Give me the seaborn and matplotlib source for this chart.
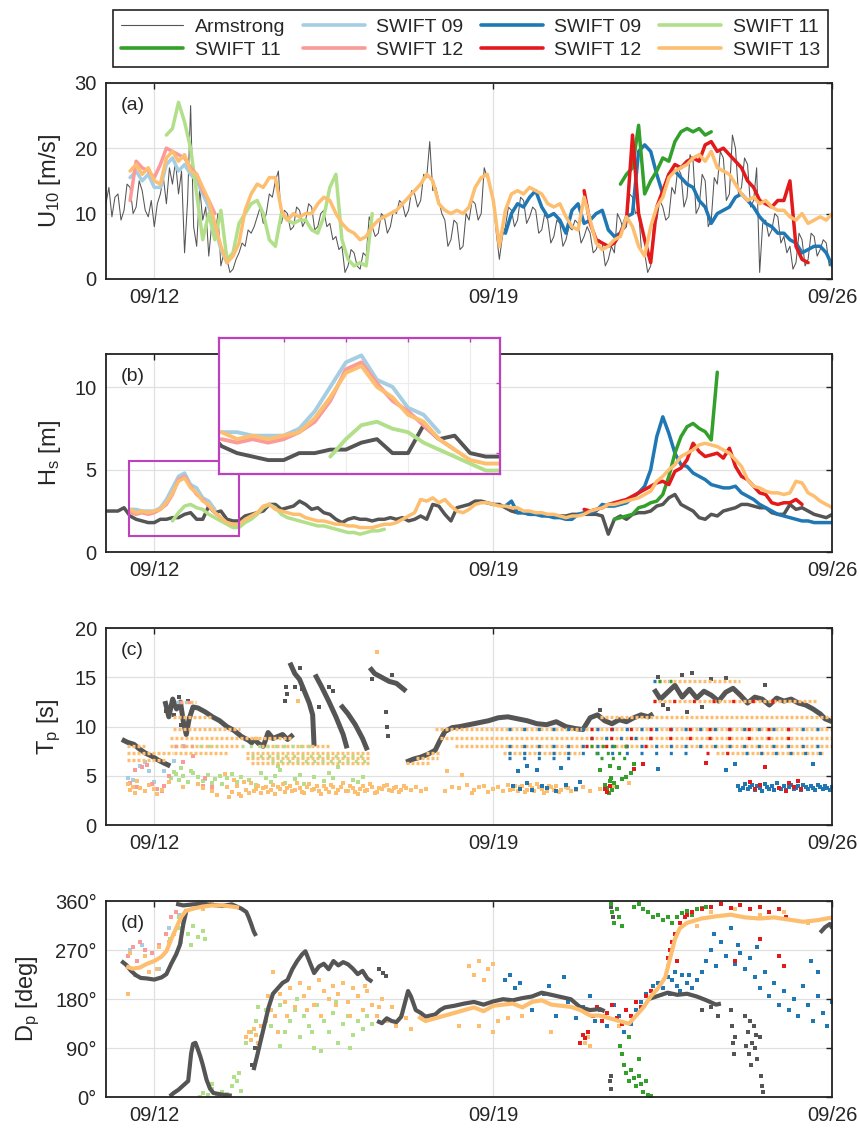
import numpy as np
import pandas as pd
import matplotlib
matplotlib.use("Agg")
import matplotlib.pyplot as plt
import matplotlib.dates as mdates
from matplotlib.lines import Line2D
from matplotlib.patches import Rectangle
import seaborn as sns

# ---------------------------------------------------------------- data
T_START = pd.Timestamp("2018-09-11 00:00")
T_END = pd.Timestamp("2018-09-26 00:00")
DT_DAYS = 0.125       # 3-hourly buoy records
DT_SHIP_DAYS = 0.0625  # 1.5-hourly ship anemometer records

LABELS = ["Armstrong", "SWIFT 09", "SWIFT 09", "SWIFT 11",
          "SWIFT 11", "SWIFT 12", "SWIFT 12", "SWIFT 13"]
COLORS = ["#555555", "#a6cee3", "#1f78b4", "#b2df8a",
          "#33a02c", "#fb9a99", "#e31a1c", "#fdbf6f"]
TICK_DAYS = [1, 8, 15]

# wind speed U10 [m/s]; each record list starts at *_T0 (days after T_START)
U10_ARM_T0 = 0.0
U10_ARM = [11.5, 14.0, 9.5, 12.5, 13.0, 9.0, 10.5, 14.5, 14.0, 10.0, 11.0, 15.0, 13.5, 10.5, 9.5, 12.0, 8.0,
           11.5, 13.0, 15.5, 11.5, 17.0, 14.5, 18.0, 13.0, 16.5, 4.0, 12.0, 26.5, 8.0, 5.0, 14.0, 9.0,
           11.0, 3.5, 8.5, 6.0, 10.0, 2.0, 4.0, 3.0, 1.0, 1.5, 3.0, 4.0, 5.5, 5.0, 7.5, 7.0,
           8.0, 9.5, 11.0, 8.5, 10.0, 13.0, 12.5, 15.0, 16.5, 8.5, 10.5, 10.0, 7.5, 8.0, 11.0, 10.5,
           8.0, 9.0, 11.5, 11.0, 7.5, 8.0, 10.0, 10.5, 8.0, 8.5, 6.0, 6.5, 4.5, 5.0, 1.0, 2.0,
           4.5, 4.0, 2.0, 1.5, 4.0, 3.5, 9.5, 8.0, 6.5, 7.0, 10.0, 9.5, 7.0, 8.0, 10.5, 10.0,
           12.0, 11.5, 9.5, 10.5, 13.5, 13.0, 11.0, 12.0, 16.0, 15.5, 21.0, 13.5, 14.0, 12.0, 10.0, 9.0,
           5.0, 6.0, 9.0, 8.5, 4.5, 5.0, 10.0, 9.0, 12.0, 11.5, 9.0, 10.0, 17.0, 15.5, 14.0, 12.0,
           7.0, 3.0, 6.5, 8.0, 11.0, 10.5, 8.0, 9.0, 12.5, 12.0, 8.5, 9.5, 11.0, 10.5, 7.0, 7.5,
           10.0, 9.0, 5.5, 6.5, 9.0, 8.5, 5.0, 6.0, 8.0, 7.5, 9.0, 8.5, 5.5, 6.5, 8.0, 7.0,
           4.0, 4.5, 6.0, 5.5, 2.0, 3.0, 5.0, 4.0, 10.0, 9.0, 7.5, 8.0, 13.0, 12.5, 10.0, 10.5,
           4.0, 4.0, 1.0, 2.0, 8.5, 9.0, 12.0, 11.0, 9.0, 9.5, 14.0, 13.0, 17.0, 16.0, 11.0, 12.5,
           19.0, 18.0, 10.0, 11.0, 16.0, 15.0, 8.0, 9.0, 15.5, 14.5, 19.5, 18.5, 12.0, 13.0, 22.0, 20.0,
           13.0, 14.0, 18.5, 17.5, 11.0, 12.0, 17.0, 1.0, 8.5, 9.0, 6.5, 7.5, 10.0, 9.5, 5.5, 6.5,
           4.0, 5.0, 1.5, 2.5, 7.0, 6.0, 2.0, 3.0, 7.0, 6.5, 3.5, 4.5, 6.0, 5.5, 2.0, 3.0]
U10_S09L_T0 = 0.5
U10_S09L = [15.5, 16.5, 15.0, 16.0, 14.0, 14.0, 17.5, 18.5, 16.5, 17.5, 16.0, 15.0, 13.0, 11.0, 8.0, 4.5, 2.5]
U10_S09_T0 = 8.25
U10_S09 = [7.0, 10.0, 11.5, 11.0, 12.5, 13.5, 11.0, 9.5, 10.0, 9.0, 7.0, 10.5, 11.5, 8.5, 9.0, 10.0,
           10.5, 7.5, 6.5, 7.0, 9.5, 10.0, 19.5, 20.5, 19.5, 16.0, 13.0, 16.0, 16.5, 15.5, 14.5, 14.0,
           12.0, 11.0, 8.5, 10.0, 10.5, 11.0, 12.5, 13.0, 12.0, 11.0, 9.5, 8.5, 8.0, 7.0, 7.0, 6.0,
           5.5, 4.0, 4.5, 5.0, 5.0, 4.0, 2.0]
U10_S11L_T0 = 1.25
U10_S11L = [22.0, 23.0, 27.0, 24.0, 20.0, 13.0, 6.0, 10.0, 6.0, 10.5, 3.0, 4.0, 8.5, 10.0, 11.5, 12.0,
            10.0, 6.0, 5.0, 10.0, 9.0, 8.5, 9.0, 9.0, 7.5, 7.0, 9.5, 14.0, 16.0, 6.0, 3.0, 2.0,
            2.5, 2.0, 10.0]
U10_S11_T0 = 10.625
U10_S11 = [14.5, 16.0, 17.0, 23.5, 13.0, 15.0, 16.5, 18.5, 18.0, 21.0, 22.5, 23.0, 22.5, 23.0, 22.0, 22.5]
U10_S12L_T0 = 0.5
U10_S12L = [12.0, 18.0, 17.0, 16.5, 15.5, 17.5, 20.0, 19.5, 19.0, 18.5, 17.0, 16.0, 13.5, 12.0, 10.0]
U10_S12_T0 = 9.875
U10_S12 = [13.5, 8.5, 6.0, 5.5, 5.0, 5.5, 7.0, 9.0, 22.0, 10.0, 6.0, 2.5, 11.0, 13.5, 16.0, 17.5,
           17.0, 18.0, 18.5, 18.0, 20.5, 21.0, 19.5, 20.0, 19.0, 18.0, 17.0, 15.0, 14.0, 12.0, 11.5, 11.0,
           12.0, 12.0, 15.0, 5.0, 3.0, 2.5]
U10_S13_T0 = 0.5
U10_S13 = [16.5, 17.5, 16.0, 17.0, 15.0, 14.5, 18.5, 19.5, 18.0, 19.0, 16.5, 16.0,
           14.0, 12.0, 8.5, 5.0, 2.5, 3.5, 5.5, 10.5, 13.0, 14.5, 14.0, 15.5, 15.5, 10.5, 9.0, 10.0,
           9.5, 10.0, 10.0, 11.5, 12.5, 12.0, 10.0, 8.5, 7.5, 7.0, 6.0, 6.5, 8.0, 9.0, 9.5, 10.0,
           10.5, 11.5, 12.5, 13.5, 14.5, 16.0, 15.0, 11.5, 10.5, 10.0, 10.5, 10.0, 11.0, 14.0, 15.5, 16.0,
           12.0, 5.0, 10.5, 13.0, 13.5, 13.0, 14.0, 13.5, 13.0, 11.5, 11.0, 11.5, 9.5, 8.0, 7.5, 12.5,
           9.0, 5.5, 4.5, 5.0, 6.0, 6.5, 9.5, 8.0, 5.0, 3.5, 8.0, 11.0, 12.5, 15.5, 16.5, 17.0,
           17.5, 18.5, 19.0, 18.0, 19.5, 17.0, 16.5, 16.0, 14.5, 13.0, 12.0, 12.5, 11.5, 12.0, 11.0, 10.5,
           10.5, 9.5, 9.0, 10.0, 8.5, 9.0, 9.5, 9.0, 10.0]

# significant wave height Hs [m]
HS_ARM_T0 = 0.0
HS_ARM = [2.5, 2.5, 2.5, 2.7, 2.2, 2.0, 1.9, 1.8, 1.8, 2.0, 2.0, 2.1, 2.1, 2.3, 2.4, 2.0,
          2.0, 2.8, 2.4, 2.5, 2.0, 1.9, 1.9, 2.2, 2.3, 2.4, 2.5, 2.9, 2.9, 2.6, 2.7, 2.8,
          3.1, 2.9, 2.6, 2.7, 2.4, 2.3, 2.0, 1.8, 2.0, 2.1, 2.0, 2.0, 1.9, 2.0, 2.0, 2.1,
          2.0, 2.1, 1.9, 2.0, 2.2, 2.0, 2.9, 2.8, 2.3, 1.9, 2.7, 2.8, 2.9, 3.1, 3.1, 3.0,
          2.9, 2.9, 2.7, 2.5, 2.4, 2.4, 2.3, 2.3, 2.3, 2.2, 2.2, 2.2, 2.2, 2.3, 2.3, 2.3,
          2.3, 2.3, 2.2, 1.1, 2.0, 2.2, 2.0, 2.3, 2.4, 2.4, 2.5, 2.8, 2.9, 3.3, 3.5, 2.9,
          2.7, 2.5, 2.1, 2.0, 2.3, 2.2, 2.5, 2.6, 2.7, 2.9, 2.9, 2.8, 2.7, 2.7, 2.4, 2.3,
          2.3, 2.9, 2.6, 2.7, 2.5, 2.3, 2.2, 2.1, 2.3]
HS_S09L_T0 = 0.5
HS_S09L = [2.6, 2.6, 2.5, 2.5, 2.5, 2.7, 3.2, 3.9, 4.6, 4.8, 4.1, 3.9, 3.3, 3.1, 2.6]
HS_S09_T0 = 8.25
HS_S09 = [2.8, 3.1, 2.4, 2.4, 2.3, 2.3, 2.2, 2.2, 2.1, 2.1, 2.0, 2.0, 2.3, 2.4, 2.4, 2.5,
          2.9, 2.8, 2.8, 2.9, 3.0, 3.3, 3.6, 4.0, 5.0, 7.0, 8.2, 7.2, 6.0, 5.3, 5.2, 4.8,
          4.6, 4.4, 4.1, 4.0, 3.9, 3.9, 4.0, 3.6, 3.4, 3.2, 2.9, 2.7, 2.5, 2.3, 2.2, 2.1,
          2.0, 1.9, 1.9, 1.8, 1.8, 1.8, 1.8]
HS_S11L_T0 = 1.375
HS_S11L = [1.9, 2.4, 2.8, 2.9, 2.7, 2.6, 2.3, 2.1, 1.9, 1.7, 1.5, 1.5, 1.8, 2.0, 2.3, 2.7,
           2.9, 2.7, 2.3, 2.1, 2.0, 1.9, 1.8, 1.7, 1.6, 1.6, 1.5, 1.4, 1.3, 1.2, 1.2, 1.1,
           1.2, 1.3, 1.3, 1.4]
HS_S11_T0 = 10.5
HS_S11 = [2.0, 2.1, 2.2, 2.3, 2.7, 2.8, 3.0, 3.1, 3.5, 4.6, 6.0, 7.0, 7.6, 7.8, 7.5, 7.3, 6.8, 10.9]
HS_S12L_T0 = 0.5
HS_S12L = [2.4, 2.3, 2.4, 2.3, 2.4, 2.6, 2.9, 3.5, 4.4, 4.6, 4.0, 3.5, 3.2, 2.8, 2.4, 2.1]
HS_S12_T0 = 9.875
HS_S12 = [2.6, 2.5, 2.6, 2.7, 2.9, 3.0, 3.1, 3.2, 3.4, 3.6, 3.8, 4.0, 4.2, 4.3, 4.1, 4.9,
          5.1, 5.6, 6.6, 6.1, 5.8, 5.9, 6.0, 5.7, 6.3, 5.2, 4.6, 4.4, 4.0, 3.6, 3.5, 3.0,
          2.9, 3.0, 3.0, 3.2, 2.9]
HS_S13_T0 = 0.5
HS_S13 = [2.6, 2.4, 2.5, 2.4, 2.5, 2.6, 3.0, 3.6, 4.3, 4.5, 3.9, 3.6,
          3.1, 2.9, 2.4, 2.1, 1.8, 1.7, 1.7, 2.0, 2.2, 2.4, 2.8, 2.9, 2.6, 2.5, 2.4, 2.3,
          2.3, 2.1, 2.0, 1.9, 1.9, 1.8, 1.7, 1.7, 1.6, 1.6, 1.5, 1.5, 1.5, 1.6, 1.7, 1.7,
          1.8, 2.0, 2.2, 2.4, 3.2, 3.1, 3.3, 3.0, 3.2, 2.8, 2.5, 2.4, 2.6, 2.9, 3.0, 3.0,
          2.9, 2.8, 2.8, 2.7, 2.7, 2.5, 2.5, 2.4, 2.4, 2.3, 2.3, 2.2, 2.1, 2.2, 2.2, 2.3,
          2.5, 2.6, 2.7, 2.9, 2.9, 3.0, 3.1, 3.2, 3.3, 3.5, 3.7, 4.3, 4.6, 5.0, 5.3, 5.8,
          6.0, 6.2, 6.5, 6.6, 6.5, 6.4, 6.2, 6.0, 5.6, 5.2, 4.4, 4.0, 3.9, 3.7, 3.6, 3.6,
          3.5, 3.6, 4.3, 4.2, 3.6, 3.4, 3.1, 2.9, 2.7]

# zoom box on the Hs panel (days after T_START, metres)
ZOOM_T = (0.48, 2.74)
ZOOM_HS = (1.0, 5.5)
INSET_HS = (1.4, 5.3)

# peak period Tp [s]: Armstrong tracks (days, seconds)
TP_ARM_1 = ([0.33, 0.45, 0.58, 0.7, 0.82, 0.95, 1.08, 1.2, 1.33],
            [8.7, 8.4, 8.2, 7.7, 7.3, 7.0, 6.6, 6.3, 6.0])
TP_ARM_2 = ([1.22, 1.3, 1.38, 1.46, 1.54, 1.6, 1.66, 1.72, 1.8, 1.9, 2.05, 2.2, 2.35, 2.5, 2.65, 2.8, 2.95, 3.05],
            [12.6, 11.0, 12.8, 11.8, 12.5, 10.5, 9.2, 10.8, 12.0, 11.9, 11.5, 11.0, 10.6, 10.0, 9.6, 9.0, 8.6, 8.2])
TP_ARM_3 = ([3.05, 3.15, 3.25, 3.35, 3.45, 3.55, 3.65, 3.75, 3.87],
            [8.8, 8.3, 8.0, 9.4, 8.8, 9.0, 9.2, 8.7, 9.2])
TP_ARM_4 = ([3.8, 3.9, 4.0, 4.1, 4.2, 4.27, 4.3],
            [16.5, 15.4, 14.8, 13.6, 12.4, 11.2, 8.0])
TP_ARM_5 = ([4.32, 4.45, 4.6, 4.75, 4.9, 4.98],
            [15.3, 14.1, 12.6, 11.0, 9.2, 7.8])
TP_ARM_6 = ([4.85, 5.0, 5.15, 5.3, 5.4],
            [12.2, 11.3, 10.2, 8.8, 7.6])
TP_ARM_7 = ([5.45, 5.55, 5.7, 5.85, 6.0, 6.1, 6.2],
            [16.0, 15.4, 15.0, 14.6, 14.4, 14.0, 13.6])
TP_ARM_8 = ([6.2, 6.35, 6.5, 6.65, 6.8, 6.9, 7.0, 7.15, 7.3, 7.5, 7.7, 7.9, 8.1, 8.3, 8.5, 8.7,
             8.9, 9.1, 9.3, 9.5, 9.7, 9.85, 10.0, 10.15, 10.3, 10.45, 10.6, 10.75, 10.9, 11.05, 11.2, 11.3],
            [6.4, 6.7, 6.9, 7.2, 7.6, 8.6, 9.5, 9.9, 10.0, 10.2, 10.4, 10.6, 10.9, 11.0, 10.8, 10.6,
             10.3, 10.2, 10.5, 10.0, 9.8, 9.7, 10.9, 11.2, 10.6, 10.3, 10.7, 10.5, 10.9, 11.2, 11.0, 11.3])
TP_ARM_9 = ([11.32, 11.45, 11.6, 11.75, 11.9, 12.05, 12.2, 12.35, 12.5, 12.65, 12.8, 12.95, 13.1,
             13.25, 13.4, 13.55, 13.7, 13.85, 14.0, 14.15, 14.3, 14.45, 14.6, 14.75, 14.85, 15.0],
            [13.8, 12.8, 13.5, 14.2, 13.0, 13.8, 12.9, 13.6, 13.2, 12.6, 13.5, 13.9, 13.2,
             12.4, 13.0, 12.8, 12.2, 12.9, 12.6, 12.8, 12.4, 12.2, 11.8, 11.3, 10.8, 10.5])
TP_ARM_PTS = [(11.4, 15.0), (11.9, 15.2), (12.1, 15.5), (12.5, 14.8), (11.6, 11.8), (12.0, 11.5),
              (12.3, 12.0), (5.78, 11.5), (5.8, 10.0), (5.82, 9.0), (3.72, 14.0), (3.75, 13.3),
              (3.7, 12.6), (4.4, 12.0), (11.5, 12.2), (12.8, 14.9), (13.6, 14.2), (10.2, 11.7),
              (1.25, 11.6), (1.4, 11.2), (1.5, 13.0), (1.7, 12.6), (1.55, 10.2), (3.9, 14.0),
              (4.0, 16.0), (4.05, 13.8), (4.6, 14.0), (4.7, 13.6), (5.5, 14.8), (5.9, 15.2)]

# SWIFT peak periods fall on discrete spectral bins: (start day, end day, Tp)
TP_S13_BANDS = [(0.43, 0.84, 8.0), (0.43, 1.39, 7.3), (0.43, 1.25, 6.6), (1.39, 2.22, 11.0),
                (1.53, 1.87, 12.5), (1.39, 2.77, 9.8), (1.32, 3.18, 8.8), (1.32, 2.77, 8.0),
                (1.40, 2.50, 7.3), (3.04, 3.87, 8.8), (2.90, 5.45, 7.3), (2.90, 5.45, 6.8),
                (3.00, 5.45, 6.3), (3.20, 4.60, 8.0), (6.20, 6.70, 6.3), (6.40, 6.85, 6.8),
                (6.60, 6.90, 7.3), (6.80, 15.0, 9.8), (6.90, 15.0, 8.8), (7.20, 15.0, 8.0),
                (8.20, 9.80, 7.3), (10.2, 15.0, 11.0), (11.3, 14.7, 12.6), (11.4, 13.1, 14.6),
                (12.6, 14.8, 7.3)]
TP_S11L_BANDS = [(1.40, 2.30, 8.0), (2.80, 4.30, 8.0), (3.00, 5.40, 7.0), (3.40, 5.40, 6.5)]
TP_S12L_BANDS = [(1.40, 1.80, 8.0), (1.50, 1.75, 12.5)]
TP_S09L_BANDS = [(1.45, 1.65, 12.5)]
TP_S09_BANDS = [(8.3, 15.0, 9.8), (8.3, 15.0, 8.0), (8.3, 12.0, 7.3), (8.3, 9.6, 6.8),
                (13.2, 14.9, 7.3), (11.3, 11.6, 14.6), (10.0, 11.4, 8.8)]
TP_S12_BANDS = [(10.0, 14.3, 9.8), (10.0, 14.3, 8.8), (9.9, 11.4, 8.0), (11.3, 14.0, 12.6),
                (12.4, 13.2, 7.3)]
TP_S11_BANDS = [(10.0, 10.9, 8.0), (10.1, 10.8, 7.3), (10.2, 10.8, 6.8), (11.4, 11.7, 14.6)]

TP_S13_PTS = [(0.45, 4.2), (0.5, 3.6), (0.55, 3.9), (0.6, 3.3), (0.65, 4.5), (0.7, 3.8), (0.8, 3.5),
              (0.9, 4.1), (1.0, 3.7), (1.05, 3.2), (1.15, 3.6), (1.3, 4.4), (1.6, 3.9), (1.9, 4.2),
              (2.0, 3.8), (2.2, 3.5), (2.3, 3.1), (2.45, 5.2), (2.5, 3.9), (2.55, 2.8), (2.6, 3.4),
              (2.65, 4.6), (2.7, 4.0), (2.75, 3.2), (2.8, 3.0), (2.85, 4.4), (2.9, 3.6), (2.95, 3.3),
              (3.0, 4.3), (3.05, 3.5), (3.1, 3.7), (3.15, 4.0), (3.2, 3.3), (3.25, 3.8), (3.3, 3.9),
              (3.35, 3.4), (3.4, 3.6), (3.45, 4.1), (3.5, 3.2), (3.55, 3.9), (3.6, 3.7), (3.65, 4.2),
              (3.7, 3.4), (3.75, 3.8), (3.8, 4.0), (3.85, 3.5), (3.9, 3.6), (3.95, 4.3), (4.0, 3.8),
              (4.05, 3.4), (4.1, 3.3), (4.15, 3.9), (4.2, 4.2), (4.25, 3.6), (4.3, 3.7), (4.35, 4.0),
              (4.4, 3.5), (4.45, 3.2), (4.5, 4.0), (4.55, 3.7), (4.6, 3.4), (4.65, 4.1), (4.7, 3.9),
              (4.75, 3.3), (4.8, 3.6), (4.85, 3.9), (4.9, 4.3), (4.95, 3.5), (5.0, 3.5), (5.05, 4.0),
              (5.1, 3.8), (5.15, 3.4), (5.2, 3.2), (5.25, 3.7), (5.3, 4.0), (5.35, 3.5), (5.4, 3.6),
              (5.45, 4.2), (5.5, 3.9), (5.55, 3.3), (5.6, 3.4), (5.65, 3.8), (5.7, 3.7), (5.75, 4.0),
              (5.8, 4.1), (5.85, 3.6), (5.9, 3.5), (5.95, 3.8), (6.0, 3.9), (6.05, 3.4), (6.1, 3.6),
              (6.15, 4.0), (6.2, 3.8), (6.3, 3.6), (6.4, 3.9), (6.5, 3.5), (6.6, 3.7), (7.0, 3.5),
              (7.15, 3.9), (7.3, 3.8), (7.45, 4.1), (7.55, 3.3), (7.6, 3.6), (7.7, 3.9), (7.8, 4.0),
              (7.9, 3.4), (8.0, 3.7), (8.1, 3.9), (8.2, 3.5), (8.3, 4.1), (8.35, 3.6), (8.4, 3.7),
              (8.45, 4.0), (8.5, 3.5), (8.55, 3.9), (8.6, 4.0), (8.65, 3.4), (8.7, 3.6), (8.75, 4.1),
              (8.8, 3.8), (8.85, 3.5), (8.9, 4.2), (8.95, 3.9), (9.0, 3.7), (9.05, 3.3), (9.1, 3.5),
              (9.15, 4.0), (9.2, 3.9), (9.25, 3.6), (9.3, 4.0), (9.35, 3.4), (9.4, 3.6), (9.5, 3.9),
              (9.55, 3.8), (9.6, 3.5), (9.7, 3.6), (9.85, 3.9), (10.0, 3.5), (10.2, 3.7), (10.5, 4.0),
              (10.8, 4.3), (5.6, 17.6), (7.05, 5.5), (7.35, 5.1), (3.97, 12.6)]
TP_S11L_PTS = [(1.35, 4.8), (1.4, 5.4), (1.45, 5.2), (1.5, 4.6), (1.55, 5.8), (1.6, 5.0), (1.7, 4.4),
               (1.75, 5.5), (1.8, 5.3), (1.9, 4.9), (2.0, 4.5), (2.1, 5.1), (2.2, 4.3), (2.25, 4.7),
               (2.35, 5.0), (2.4, 4.2), (2.5, 4.8), (2.6, 5.2), (2.7, 4.4), (2.8, 4.9), (2.95, 4.6),
               (3.1, 4.1), (3.2, 5.3), (3.3, 4.8), (3.5, 5.0), (3.7, 4.3), (3.9, 4.7), (4.1, 4.2),
               (4.3, 4.9), (4.5, 4.5), (4.7, 4.8), (4.9, 4.3), (5.1, 4.6), (5.3, 4.9), (3.4, 4.4),
               (4.0, 5.1), (4.6, 5.3), (5.2, 4.4), (3.6, 5.6), (3.55, 6.0), (4.8, 5.9)]
TP_S12L_PTS = [(0.5, 4.3), (0.6, 5.6), (0.75, 5.9), (0.85, 6.1), (0.95, 4.2), (1.05, 3.7), (1.2, 4.0),
               (1.3, 5.0), (1.6, 6.4), (1.8, 7.0), (2.0, 4.0), (2.2, 3.9), (2.05, 4.8), (1.15, 3.5),
               (0.65, 3.9)]
TP_S09L_PTS = [(0.45, 4.8), (0.55, 4.6), (0.7, 6.0), (0.9, 5.5), (1.2, 5.5), (1.4, 6.5), (1.6, 8.0),
               (2.05, 4.7), (0.8, 6.4), (1.0, 4.4)]
TP_S09_PTS = [(8.4, 4.0), (8.55, 3.7), (8.7, 4.3), (8.8, 3.6), (9.0, 4.0), (9.1, 3.8), (9.3, 3.5),
              (9.5, 4.1), (9.7, 3.7), (9.8, 4.4), (8.5, 5.5), (8.7, 6.0), (8.9, 5.6), (9.4, 5.8),
              (11.4, 5.7), (12.8, 5.6), (13.0, 6.2), (14.6, 6.2), (13.05, 4.0), (13.1, 3.6),
              (13.15, 3.8), (13.2, 4.2), (13.25, 3.7), (13.3, 3.9), (13.35, 4.1), (13.4, 3.6),
              (13.45, 4.0), (13.5, 3.8), (13.55, 3.5), (13.6, 4.2), (13.65, 3.9), (13.7, 3.7),
              (13.75, 4.0), (13.8, 3.6), (13.85, 4.3), (13.9, 3.8), (13.95, 3.7), (14.0, 4.0),
              (14.05, 3.6), (14.1, 3.9), (14.15, 4.1), (14.2, 3.7), (14.25, 3.8), (14.3, 4.0),
              (14.35, 3.6), (14.4, 4.1), (14.45, 3.9), (14.5, 3.7), (14.55, 4.0), (14.6, 3.8),
              (14.65, 3.6), (14.7, 4.1), (14.75, 3.9), (14.8, 3.7), (14.85, 4.0), (14.9, 3.8),
              (14.95, 3.6), (15.0, 3.9)]
TP_S12_PTS = [(10.3, 3.7), (10.35, 3.4), (10.4, 4.0), (13.3, 4.4), (13.5, 4.1), (13.9, 3.8),
              (14.1, 4.3), (14.2, 3.9), (14.3, 4.5), (14.35, 3.7), (10.9, 5.7), (11.1, 6.2),
              (13.6, 5.9), (12.4, 6.3), (13.4, 3.7), (14.05, 3.5)]
TP_S11_PTS = [(10.3, 4.1), (10.35, 3.8), (10.4, 4.5), (10.45, 3.6), (10.5, 4.3), (10.55, 3.9),
              (10.65, 4.7), (10.75, 4.9), (10.2, 5.6), (10.6, 5.8), (10.85, 5.3), (10.4, 6.0),
              (10.9, 6.2), (10.38, 3.3), (10.42, 4.8)]

# peak direction Dp [deg]: continuous tracks (days, degrees) and scattered records
DP_ARM_1 = ([0.32, 0.42, 0.52, 0.62, 0.72, 0.85, 1.0, 1.15, 1.25, 1.35, 1.45, 1.53, 1.6, 1.67],
            [250, 243, 232, 224, 219, 218, 216, 220, 226, 245, 262, 280, 318, 345])
DP_ARM_2 = ([1.45, 1.6, 1.8, 2.0, 2.2, 2.4, 2.6, 2.7, 2.8, 2.9, 2.95, 3.0, 3.05, 3.1],
            [355, 352, 354, 355, 353, 351, 354, 350, 346, 340, 330, 318, 305, 296])
DP_ARM_3 = ([1.32, 1.4, 1.5, 1.6, 1.7, 1.76, 1.8, 1.85, 1.9, 1.95, 2.0, 2.08, 2.15, 2.22, 2.4, 2.6],
            [2, 8, 14, 22, 30, 80, 98, 100, 88, 75, 60, 32, 16, 8, 5, 3])
DP_ARM_4 = ([3.05, 3.12, 3.2, 3.28, 3.36, 3.45, 3.55, 3.65, 3.75, 3.85, 3.95, 4.05, 4.12, 4.2,
             4.3, 4.4, 4.5, 4.6, 4.7, 4.8, 4.9, 5.0, 5.1, 5.2, 5.3, 5.4, 5.5],
            [50, 75, 105, 135, 165, 190, 200, 210, 215, 235, 250, 262, 268, 250,
             228, 240, 245, 235, 250, 242, 248, 244, 236, 226, 232, 218, 212])
DP_ARM_5 = ([5.6, 5.7, 5.8, 5.9, 6.0, 6.1, 6.18, 6.24, 6.3, 6.4, 6.5, 6.6, 6.7, 6.8, 6.9, 7.0,
             7.2, 7.4, 7.6, 7.8, 8.0, 8.2, 8.4, 8.6, 8.8, 9.0, 9.2, 9.4, 9.6, 9.8, 10.0, 10.2, 10.3],
            [140, 136, 145, 140, 138, 148, 175, 195, 185, 160, 155, 148, 150, 152, 160, 165,
             168, 172, 175, 170, 176, 180, 178, 182, 185, 192, 188, 184, 180, 165, 160, 162, 158])
DP_ARM_6 = ([11.2, 11.4, 11.6, 11.8, 12.0, 12.2, 12.4, 12.6, 12.7],
            [180, 186, 192, 188, 190, 185, 178, 170, 172])
DP_ARM_7 = ([14.75, 14.85, 14.95, 15.0], [302, 312, 318, 310])
DP_ARM_PTS = [(5.65, 235), (5.72, 228), (5.78, 222), (10.42, 350), (10.45, 340), (10.47, 330),
              (10.4, 30), (10.42, 15), (10.44, 40), (12.9, 160), (12.93, 130), (12.95, 100),
              (12.97, 80), (13.0, 110), (13.2, 150), (13.25, 120), (13.3, 140), (13.35, 100),
              (13.4, 90), (13.45, 70), (13.5, 110), (13.52, 40), (13.55, 20), (13.57, 10),
              (13.28, 80), (13.38, 130), (13.22, 95), (13.32, 60), (13.42, 115), (12.3, 160),
              (12.5, 165), (12.65, 150), (3.02, 60), (3.08, 90)]
DP_S13_1 = ([0.42, 0.55, 0.7, 0.85, 1.0, 1.15, 1.25, 1.35, 1.45, 1.55, 1.65, 1.8, 2.0, 2.2, 2.4, 2.6, 2.75],
            [240, 236, 238, 245, 250, 258, 268, 290, 310, 330, 342, 346, 350, 352, 352, 350, 348])
DP_S13_2 = ([6.45, 6.6, 6.8, 7.0, 7.2, 7.4, 7.6, 7.8, 8.0, 8.2, 8.4, 8.6, 8.8, 9.0, 9.2, 9.4, 9.6,
             9.8, 10.0, 10.2, 10.4, 10.6, 10.8, 10.95, 11.1, 11.25, 11.4, 11.55, 11.65, 11.75, 11.85,
             12.0, 12.3, 12.6, 12.9, 13.2, 13.5, 13.8, 14.1, 14.4, 14.7, 15.0],
            [148, 140, 145, 150, 155, 160, 165, 158, 168, 170, 172, 165, 175, 178, 170, 168, 166,
             160, 150, 150, 145, 140, 135, 150, 165, 185, 200, 220, 255, 290, 310,
             320, 328, 332, 335, 330, 328, 330, 326, 322, 325, 330])
DP_S13_PTS = [(2.9, 110), (2.95, 120), (3.0, 105), (3.05, 125), (3.1, 115), (3.15, 100), (3.2, 130),
              (3.3, 140), (3.4, 160), (3.45, 230), (3.5, 150), (3.6, 190), (3.7, 175), (3.8, 200),
              (3.9, 165), (4.0, 210), (4.1, 185), (4.2, 200), (4.3, 170), (4.4, 215), (4.5, 195),
              (4.6, 180), (4.7, 205), (4.8, 190), (4.9, 210), (5.0, 175), (5.1, 200), (5.2, 185),
              (5.3, 160), (5.4, 195), (5.5, 170), (5.6, 150), (5.7, 180), (5.8, 140), (5.9, 165),
              (6.0, 130), (6.1, 150), (6.2, 145), (6.3, 125), (0.45, 190), (0.5, 265), (0.6, 225),
              (0.8, 260), (0.9, 230), (1.05, 235), (1.1, 275), (7.5, 240), (7.6, 225), (7.7, 250),
              (7.8, 215), (7.9, 235), (8.0, 245), (7.3, 130), (7.7, 130), (8.1, 140), (8.3, 145),
              (8.6, 150), (8.0, 120), (9.2, 120), (9.9, 100), (9.95, 110), (10.0, 95), (10.3, 150),
              (10.6, 130), (11.6, 240), (11.7, 270), (12.2, 315), (12.5, 340), (13.0, 345),
              (13.5, 335), (14.0, 340), (14.5, 320), (2.0, 345), (2.2, 355), (1.6, 320), (1.4, 300),
              (1.3, 285), (3.35, 185), (3.55, 120), (3.75, 150), (4.15, 160), (4.45, 150), (4.75, 170),
              (5.05, 150), (5.35, 205), (5.65, 165)]
DP_S09L_PTS = [(0.5, 270), (0.75, 280), (1.1, 235), (1.3, 310), (1.5, 335)]
DP_S09_PTS = [(8.25, 215), (8.35, 225), (8.45, 200), (8.55, 210), (8.8, 160), (9.05, 190), (9.15, 205),
              (9.3, 150), (9.45, 220), (9.55, 175), (9.7, 145), (9.85, 165), (10.0, 185), (10.1, 140),
              (10.2, 160), (10.35, 130), (10.5, 170), (10.6, 150), (10.7, 120), (10.85, 135),
              (10.95, 160), (11.05, 175), (11.15, 190), (11.3, 205), (11.4, 210), (11.5, 200),
              (11.6, 220), (11.7, 215), (11.8, 205), (11.9, 225), (12.0, 210), (12.1, 200),
              (12.2, 215), (12.3, 230), (12.4, 250), (12.5, 270), (12.55, 300), (12.6, 240),
              (12.7, 285), (12.8, 260), (12.9, 310), (13.0, 245), (13.05, 280), (13.1, 265),
              (13.2, 235), (13.3, 255), (13.4, 220), (13.45, 275), (13.5, 200), (13.6, 230),
              (13.7, 185), (13.8, 210), (13.9, 170), (14.0, 195), (14.1, 160), (14.2, 180),
              (14.3, 150), (14.4, 205), (14.5, 170), (14.6, 140), (14.7, 185), (14.8, 155),
              (14.9, 130), (15.0, 175), (14.55, 250), (14.7, 230), (11.65, 190), (11.75, 230),
              (11.85, 195), (12.05, 225)]
DP_S11L_PTS = [(1.32, 290), (1.4, 300), (1.5, 310), (1.55, 285), (1.6, 320), (1.7, 300), (1.75, 280),
               (1.8, 315), (1.9, 295), (2.0, 305), (2.05, 290), (1.5, 330), (1.95, 0), (2.0, 8),
               (2.1, 5), (2.2, 15), (2.3, 3), (2.4, 10), (2.5, 6), (2.6, 20), (2.7, 30), (2.75, 45),
               (2.8, 12), (2.2, 25), (2.45, 2), (2.65, 38), (2.9, 100), (3.0, 120), (3.1, 140),
               (3.2, 110), (3.3, 160), (3.4, 130), (3.5, 150), (3.6, 170), (3.7, 120), (3.8, 140),
               (3.9, 160), (4.0, 110), (4.1, 150), (4.2, 130), (4.3, 90), (4.35, 170), (4.5, 140),
               (4.6, 120), (4.7, 155), (4.8, 100), (4.9, 135), (5.0, 150), (5.1, 115), (5.2, 140),
               (5.3, 125), (5.4, 150), (5.5, 135), (3.15, 165), (3.6, 95), (4.45, 85), (4.75, 175),
               (5.05, 90), (3.95, 180), (4.25, 120)]
DP_S11_PTS = [(10.42, 355), (10.45, 340), (10.5, 320), (10.55, 345), (10.6, 330), (10.65, 315),
              (10.9, 350), (11.0, 355), (11.1, 345), (11.2, 340), (10.62, 95), (10.65, 80),
              (10.7, 60), (10.75, 45), (10.8, 30), (10.85, 50), (10.9, 35), (10.95, 20), (11.0, 40),
              (11.05, 25), (11.1, 10), (11.15, 30), (11.2, 5), (11.25, 2), (10.8, 110), (11.0, 70),
              (11.3, 330), (11.4, 335), (11.5, 325), (11.6, 330), (11.7, 320), (11.8, 330),
              (11.9, 338), (12.0, 342), (12.1, 335), (12.2, 345), (12.3, 348), (12.4, 350)]
DP_S12L_PTS = [(0.45, 260), (0.55, 275), (0.65, 250), (0.8, 270), (0.95, 265), (1.1, 280),
               (1.25, 300), (1.35, 330), (1.45, 340), (0.7, 285)]
DP_S12_PTS = [(9.8, 100), (9.85, 115), (9.9, 108), (9.95, 120), (10.05, 150), (10.15, 165),
              (10.25, 140), (10.35, 155), (10.45, 170), (10.55, 145), (10.65, 135), (10.75, 160),
              (10.85, 150), (10.95, 175), (11.05, 165), (11.15, 185), (11.25, 195), (11.6, 255),
              (11.65, 270), (11.7, 285), (11.75, 300), (11.85, 320), (11.95, 330), (12.1, 340),
              (12.3, 345), (12.5, 350), (12.7, 355), (12.9, 348), (13.1, 352), (13.3, 345),
              (13.5, 350), (13.7, 340), (13.9, 345), (14.05, 330), (13.0, 250), (13.5, 290),
              (13.9, 260), (14.0, 240), (11.8, 250), (12.0, 335)]


# ---------------------------------------------------------------- helpers
def grid_times(t0, vals, step=DT_DAYS):
    return T_START + pd.to_timedelta(t0 + step * np.arange(len(vals)), unit="D")


def day_times(days):
    return T_START + pd.to_timedelta(np.asarray(days, dtype=float), unit="D")


def series_line(ax, t0, vals, color, lw, step=DT_DAYS):
    sns.lineplot(x=grid_times(t0, vals, step), y=vals, color=color, lw=lw, ax=ax,
                 estimator=None, sort=False, legend=False)


def track(ax, trk, color, lw):
    sns.lineplot(x=day_times(trk[0]), y=trk[1], color=color, lw=lw, ax=ax,
                 estimator=None, sort=False, legend=False, solid_capstyle="butt")


def points(ax, pts, color, size=9):
    t, v = zip(*pts)
    sns.scatterplot(x=day_times(t), y=list(v), color=color, marker="s", s=size,
                    linewidth=0, ax=ax, legend=False)


def bands(ax, bnd, color, dash, lw=2.4):
    t0, t1, tp = zip(*bnd)
    ax.hlines(tp, mdates.date2num(day_times(t0)), mdates.date2num(day_times(t1)),
              colors=color, lw=lw, linestyles=[(0, dash)])


def style_axis(ax, ylim, yticks, yticklabels, ylabel, letter, label_x=-0.059):
    ax.set_xlim(T_START, T_END)
    ax.set_ylim(*ylim)
    ax.set_xticks([T_START + pd.Timedelta(days=d) for d in TICK_DAYS])
    ax.xaxis.set_major_formatter(mdates.DateFormatter("%m/%d"))
    ax.set_yticks(yticks)
    ax.set_yticklabels(yticklabels)
    ax.set_xlabel("")
    ax.set_ylabel(ylabel, fontsize=17)
    ax.yaxis.set_label_coords(label_x, 0.5)
    ax.grid(True, color="#e0e0e0", lw=0.9)
    ax.set_axisbelow(True)
    ax.tick_params(direction="in", top=True, right=True, length=4.5, width=1.0,
                   labelsize=14.5, pad=6.5, color="#222222")
    for s in ax.spines.values():
        s.set_linewidth(1.3)
        s.set_color("#222222")
    ax.text(0.021, 0.885, letter, transform=ax.transAxes, fontsize=14, va="center", ha="left")


# ---------------------------------------------------------------- figure
sns.set_style("white")
plt.rcParams["font.family"] = ["Liberation Sans", "DejaVu Sans"]
plt.rcParams["mathtext.fontset"] = "custom"
plt.rcParams["mathtext.rm"] = "Liberation Sans"
plt.rcParams["mathtext.it"] = "Liberation Sans:italic"

fig = plt.figure(figsize=(8.6, 11.3), dpi=100)
L, W = 0.1231, 0.8447
ax_u = fig.add_axes([L, 0.7531, W, 0.1737])
ax_h = fig.add_axes([L, 0.5112, W, 0.1755])
ax_t = fig.add_axes([L, 0.2699, W, 0.1741])
ax_d = fig.add_axes([L, 0.0289, W, 0.1737])
ARM, S09L, S09, S11L, S11, S12L, S12, S13 = COLORS

# (a) wind speed
series_line(ax_u, U10_ARM_T0, U10_ARM, ARM, 0.75, step=DT_SHIP_DAYS)
for t0, vals, c in [(U10_S09L_T0, U10_S09L, S09L), (U10_S09_T0, U10_S09, S09),
                    (U10_S11L_T0, U10_S11L, S11L), (U10_S11_T0, U10_S11, S11),
                    (U10_S12L_T0, U10_S12L, S12L), (U10_S12_T0, U10_S12, S12),
                    (U10_S13_T0, U10_S13, S13)]:
    series_line(ax_u, t0, vals, c, 2.5)
style_axis(ax_u, (0, 30), [0, 10, 20, 30], ["0", "10", "20", "30"],
           r"U$_\mathrm{10}$ [m/s]", "(a)")

# (b) significant wave height, with a zoomed inset of the first storm
hs_sets = [(HS_ARM_T0, HS_ARM, ARM), (HS_S09L_T0, HS_S09L, S09L), (HS_S09_T0, HS_S09, S09),
           (HS_S11L_T0, HS_S11L, S11L), (HS_S11_T0, HS_S11, S11),
           (HS_S12L_T0, HS_S12L, S12L), (HS_S12_T0, HS_S12, S12), (HS_S13_T0, HS_S13, S13)]
for t0, vals, c in hs_sets:
    series_line(ax_h, t0, vals, c, 2.5)
style_axis(ax_h, (0, 12), [0, 5, 10], ["0", "5", "10"], r"H$_\mathrm{s}$ [m]", "(b)")

MAG = "#bf40bf"
z0, z1 = [mdates.date2num(T_START + pd.Timedelta(days=d)) for d in ZOOM_T]
ax_h.add_patch(Rectangle((z0, ZOOM_HS[0]), z1 - z0, ZOOM_HS[1] - ZOOM_HS[0],
                         fill=False, edgecolor=MAG, lw=1.5, zorder=5))
ax_in = fig.add_axes([0.2547, 0.5805, 0.3267, 0.1204], zorder=6)
for t0, vals, c in hs_sets:
    series_line(ax_in, t0, vals, c, 2.8)
ax_in.set_xlim(T_START + pd.Timedelta(days=ZOOM_T[0]), T_START + pd.Timedelta(days=ZOOM_T[1]))
ax_in.set_ylim(*INSET_HS)
ax_in.set_xticks([T_START + pd.Timedelta(days=d) for d in (1.0, 1.5, 2.0, 2.5)])
ax_in.set_yticks([2, 4])
ax_in.tick_params(direction="in", top=True, right=True, length=3, width=1.0, color=MAG,
                  labelbottom=False, labelleft=False)
ax_in.grid(True, color="#ececec", lw=0.8)
ax_in.set_xlabel("")
ax_in.set_ylabel("")
ax_in.set_facecolor("white")
for s in ax_in.spines.values():
    s.set_color(MAG)
    s.set_linewidth(1.6)

# (c) peak period
for trk in [TP_ARM_1, TP_ARM_2, TP_ARM_3, TP_ARM_4, TP_ARM_5, TP_ARM_6, TP_ARM_7, TP_ARM_8, TP_ARM_9]:
    track(ax_t, trk, ARM, 3.6)
points(ax_t, TP_ARM_PTS, ARM, 10)
bands(ax_t, TP_S13_BANDS, S13, (0.9, 0.6))
bands(ax_t, TP_S11L_BANDS, S11L, (0.9, 1.6))
bands(ax_t, TP_S12L_BANDS, S12L, (0.9, 1.6))
bands(ax_t, TP_S09L_BANDS, S09L, (0.9, 1.6))
bands(ax_t, TP_S09_BANDS, S09, (0.9, 3.5))
bands(ax_t, TP_S12_BANDS, S12, (0.9, 5.0))
bands(ax_t, TP_S11_BANDS, S11, (0.9, 2.5))
points(ax_t, TP_S09L_PTS, S09L)
points(ax_t, TP_S11L_PTS, S11L)
points(ax_t, TP_S12L_PTS, S12L)
points(ax_t, TP_S13_PTS, S13)
points(ax_t, TP_S09_PTS, S09)
points(ax_t, TP_S11_PTS, S11)
points(ax_t, TP_S12_PTS, S12)
style_axis(ax_t, (0, 20), [0, 5, 10, 15, 20], ["0", "5", "10", "15", "20"],
           r"T$_\mathrm{p}$ [s]", "(c)")

# (d) peak direction
for trk in [DP_ARM_1, DP_ARM_2, DP_ARM_3, DP_ARM_4, DP_ARM_5, DP_ARM_6, DP_ARM_7]:
    track(ax_d, trk, ARM, 3.0)
points(ax_d, DP_ARM_PTS, ARM, 10)
points(ax_d, DP_S09L_PTS, S09L)
points(ax_d, DP_S11L_PTS, S11L)
points(ax_d, DP_S12L_PTS, S12L)
track(ax_d, DP_S13_1, S13, 3.0)
track(ax_d, DP_S13_2, S13, 3.0)
points(ax_d, DP_S13_PTS, S13)
points(ax_d, DP_S09_PTS, S09)
points(ax_d, DP_S11_PTS, S11)
points(ax_d, DP_S12_PTS, S12)
style_axis(ax_d, (0, 360), [0, 90, 180, 270, 360], ["0°", "90°", "180°", "270°", "360°"],
           r"D$_\mathrm{p}$ [deg]", "(d)", label_x=-0.088)

# legend laid out row by row above the panels
handles = [Line2D([], [], color=c, lw=(0.8 if i == 0 else 2.6)) for i, c in enumerate(COLORS)]
order = [0, 4, 1, 5, 2, 6, 3, 7]
fig.legend([handles[i] for i in order], [LABELS[i] for i in order],
           loc="upper left", bbox_to_anchor=(113 / 860, 1 - 10 / 1130, 715 / 860, 0.0),
           mode="expand", ncol=4, fontsize=14, handlelength=3.2, handletextpad=0.6,
           columnspacing=0.8, labelspacing=0.3, borderpad=0.42, borderaxespad=0,
           frameon=True, fancybox=False, edgecolor="#222222", framealpha=1)
fig.legends[0].get_frame().set_linewidth(1.2)

fig.savefig("out.png", dpi=100)
